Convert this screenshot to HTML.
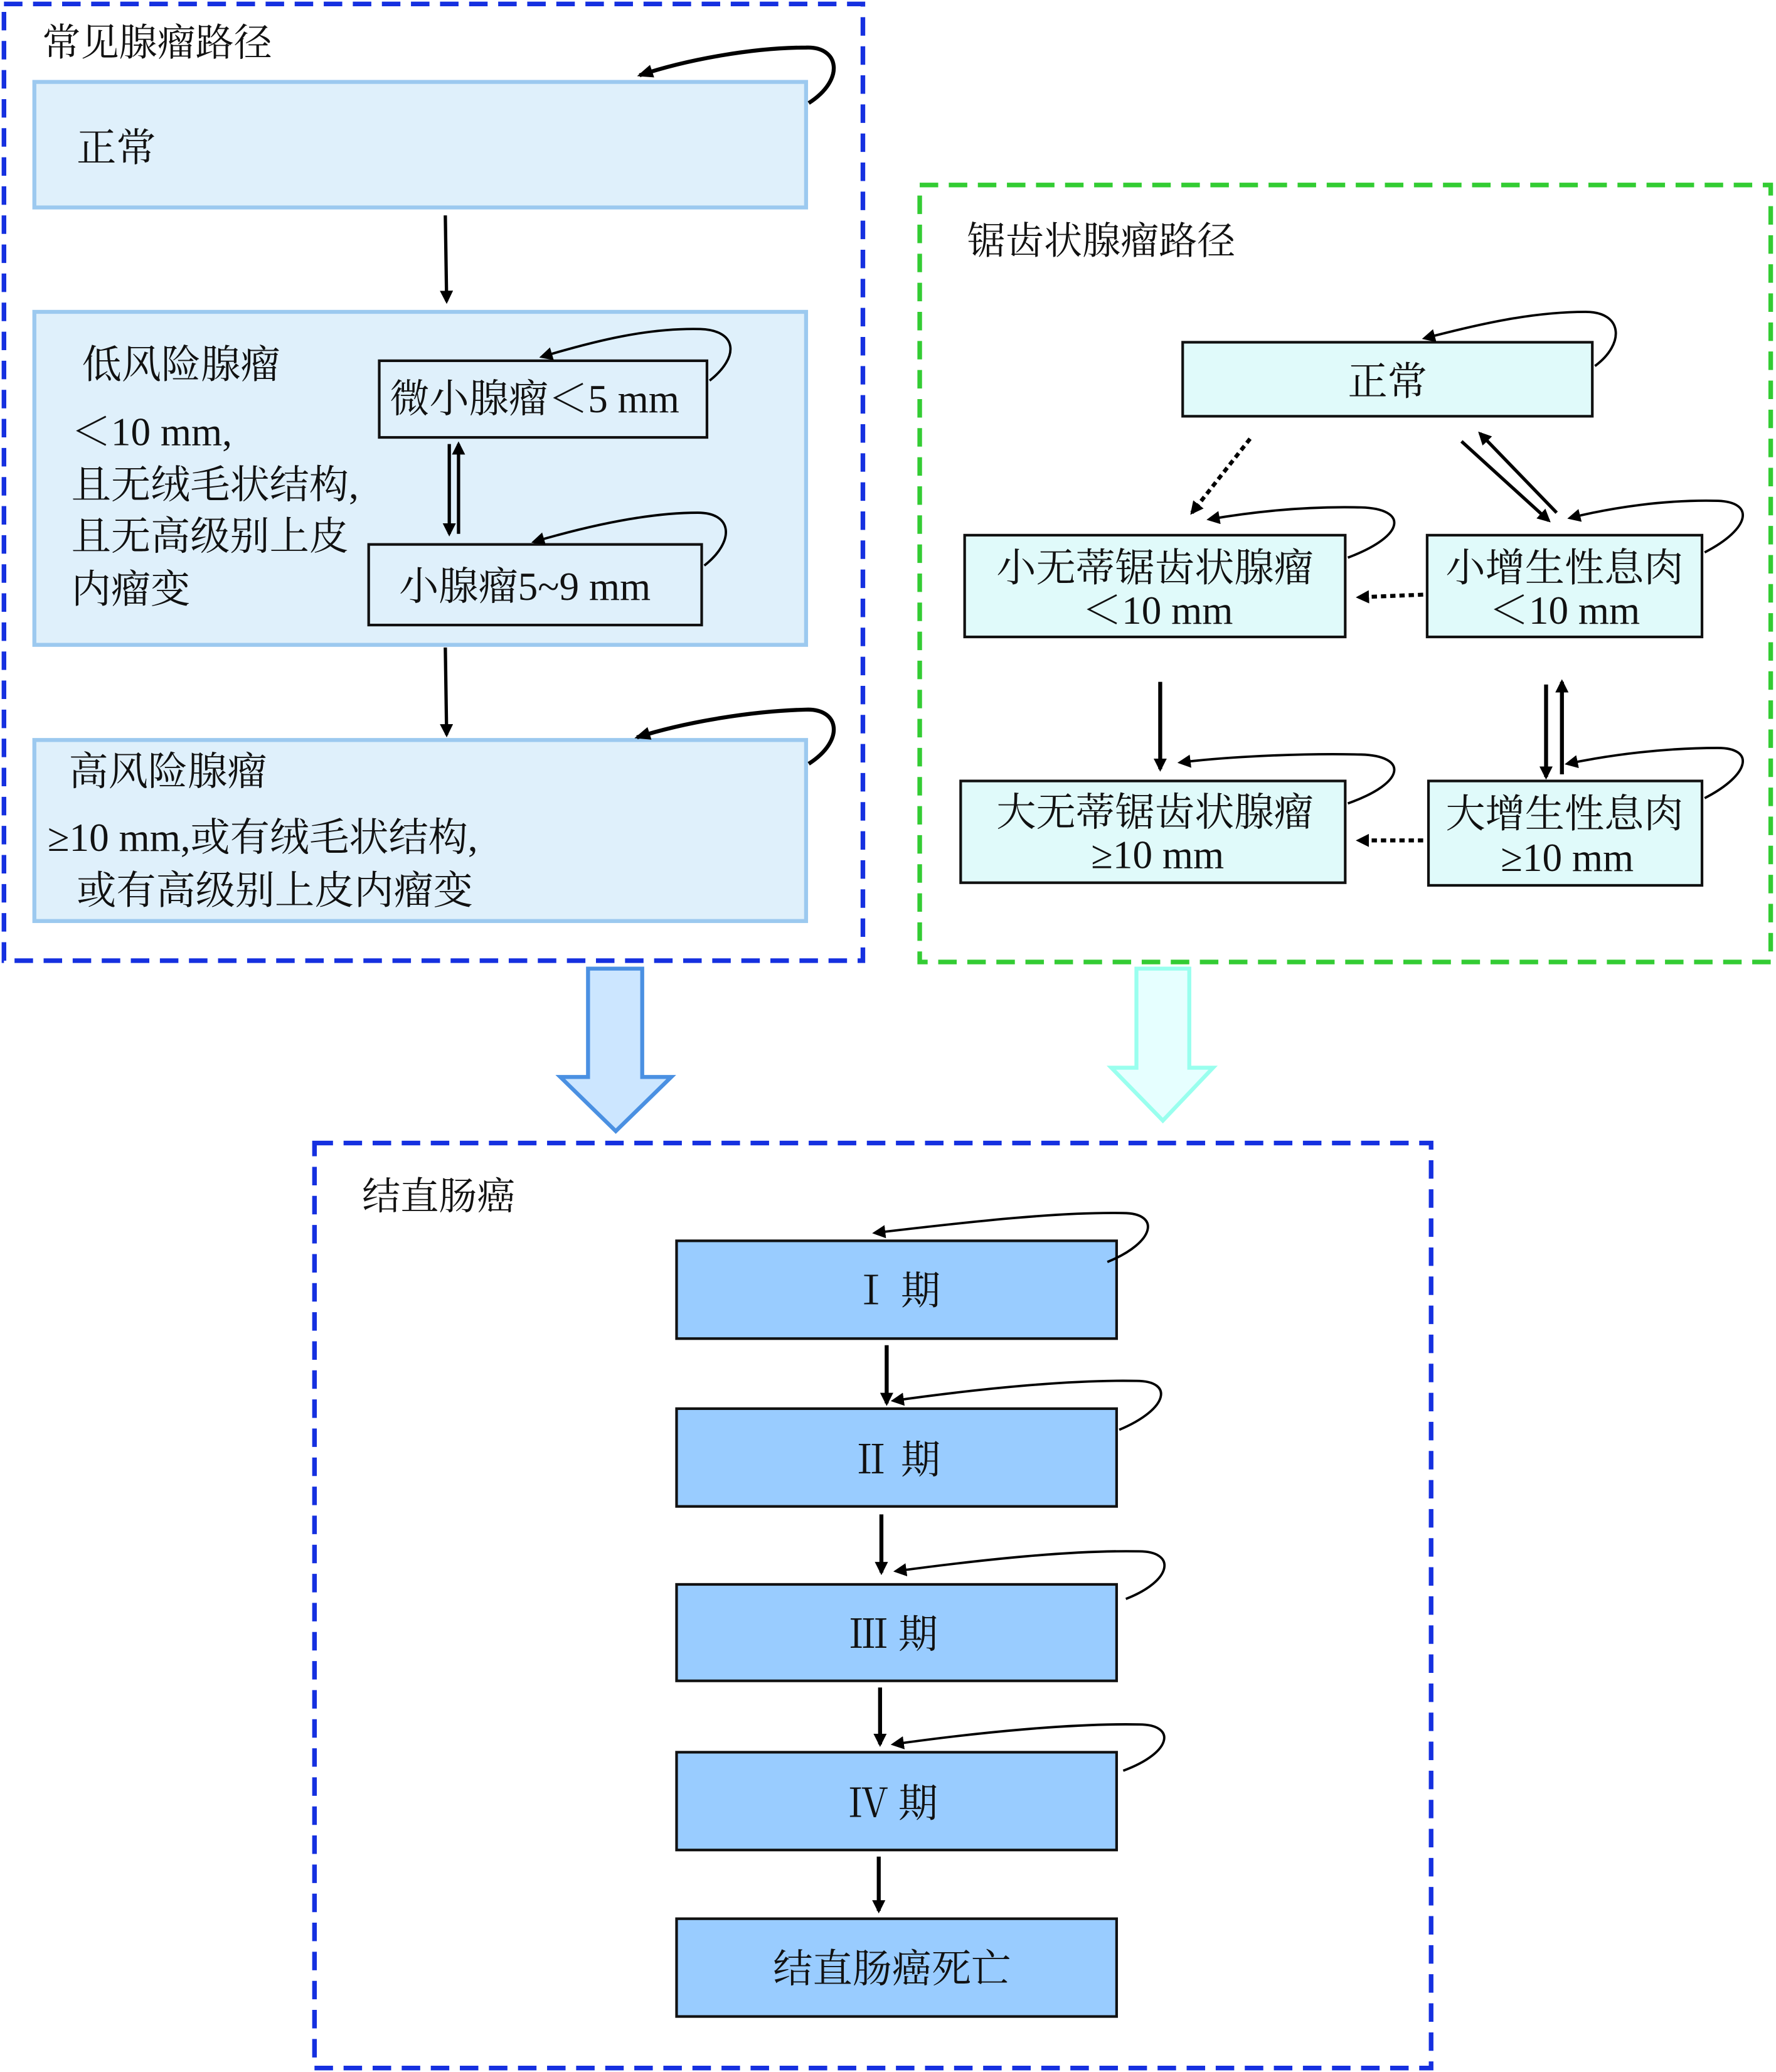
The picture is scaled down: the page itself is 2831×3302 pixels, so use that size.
<!DOCTYPE html>
<html><head><meta charset="utf-8"><style>
html,body{margin:0;padding:0;background:#fff;}
svg{display:block;}
text{font-family:"Liberation Serif","Noto Serif CJK SC",serif;fill:#111;}
</style></head><body>
<svg width="2831" height="3302" viewBox="0 0 1344 1568" preserveAspectRatio="none" xmlns="http://www.w3.org/2000/svg">
<defs>
<marker id="a" markerWidth="10" markerHeight="10" refX="8" refY="5" orient="auto" markerUnits="userSpaceOnUse"><path d="M0,0 L10,5 L0,10 z" fill="#000"/></marker>
<marker id="s" markerWidth="12" markerHeight="10" refX="10" refY="5" orient="auto" markerUnits="userSpaceOnUse"><path d="M0,0 L12,5 L0,10 z" fill="#000"/></marker>
</defs>

<!-- Left panel -->
<rect x="3" y="3" width="650" height="724" fill="none" stroke="#1530e0" stroke-width="3.5" stroke-dasharray="14,8"/>
<text x="32" y="42" font-size="29">常见腺瘤路径</text>
<rect x="26" y="62" width="584" height="95" fill="#dff0fb" stroke="#9cc9ef" stroke-width="3"/>
<text x="58" y="122" font-size="30">正常</text>
<path d="M612,78 C640,60 635,35 610,36 C570,36 520,45 484,57" fill="none" stroke="#000" stroke-width="3" marker-end="url(#s)"/>
<line x1="337" y1="163" x2="338" y2="228" stroke="#000" stroke-width="2.5" marker-end="url(#a)"/>

<rect x="26" y="236" width="584" height="252" fill="#dff0fb" stroke="#9cc9ef" stroke-width="3"/>
<text x="62" y="286" font-size="30">低风险腺瘤</text>
<text x="54" y="337" font-size="30">＜10 mm,</text>
<text x="54" y="377" font-size="30">且无绒毛状结构,</text>
<text x="54" y="416" font-size="30">且无高级别上皮</text>
<text x="54" y="456" font-size="30">内瘤变</text>
<rect x="287" y="273" width="248" height="58" fill="#dff0fb" stroke="#111" stroke-width="2"/>
<text x="295" y="312" font-size="30">微小腺瘤＜5 mm</text>
<path d="M537,288 C560,270 558,250 530,249 C490,248 450,258 410,270" fill="none" stroke="#000" stroke-width="1.8" marker-end="url(#a)"/>
<rect x="279" y="412" width="252" height="61" fill="#dff0fb" stroke="#111" stroke-width="2"/>
<text x="302" y="454" font-size="30">小腺瘤5~9 mm</text>
<path d="M533,428 C556,410 555,388 528,388 C490,388 445,398 404,410" fill="none" stroke="#000" stroke-width="1.8" marker-end="url(#a)"/>
<line x1="340" y1="336" x2="340" y2="404" stroke="#000" stroke-width="2.5" marker-end="url(#a)"/>
<line x1="347" y1="404" x2="347" y2="336" stroke="#000" stroke-width="2.5" marker-end="url(#a)"/>
<line x1="337" y1="490" x2="338" y2="556" stroke="#000" stroke-width="2.5" marker-end="url(#a)"/>

<rect x="26" y="560" width="584" height="137" fill="#dff0fb" stroke="#9cc9ef" stroke-width="3"/>
<text x="52" y="594" font-size="30">高风险腺瘤</text>
<text x="36" y="644" font-size="30">≥10 mm,或有绒毛状结构,</text>
<text x="58" y="684" font-size="30">或有高级别上皮内瘤变</text>
<path d="M612,578 C640,560 635,536 610,537 C570,538 520,546 482,558" fill="none" stroke="#000" stroke-width="3" marker-end="url(#s)"/>

<!-- Right panel -->
<rect x="696" y="140" width="644" height="588" fill="none" stroke="#33cc33" stroke-width="3.5" stroke-dasharray="14,8"/>
<text x="732" y="192" font-size="29">锯齿状腺瘤路径</text>
<rect x="895" y="259" width="310" height="56" fill="#e0fafa" stroke="#111" stroke-width="2"/>
<text x="1050" y="299" font-size="30" text-anchor="middle">正常</text>
<path d="M1207,277 C1230,260 1228,236 1200,236 C1160,236 1120,245 1078,256" fill="none" stroke="#000" stroke-width="1.8" marker-end="url(#a)"/>

<rect x="730" y="405" width="288" height="77" fill="#e0fafa" stroke="#111" stroke-width="2"/>
<text x="874" y="440" font-size="30" text-anchor="middle">小无蒂锯齿状腺瘤</text>
<text x="876" y="472" font-size="30" text-anchor="middle">＜10 mm</text>
<path d="M1020,422 C1065,405 1065,385 1030,384 C990,383 950,387 915,393" fill="none" stroke="#000" stroke-width="1.8" marker-end="url(#a)"/>

<rect x="1080" y="405" width="208" height="77" fill="#e0fafa" stroke="#111" stroke-width="2"/>
<text x="1184" y="440" font-size="30" text-anchor="middle">小增生性息肉</text>
<text x="1184" y="472" font-size="30" text-anchor="middle">＜10 mm</text>
<path d="M1290,418 C1325,400 1328,380 1300,379 C1260,378 1220,384 1188,392" fill="none" stroke="#000" stroke-width="1.8" marker-end="url(#a)"/>

<rect x="727" y="591" width="291" height="77" fill="#e0fafa" stroke="#111" stroke-width="2"/>
<text x="874" y="625" font-size="30" text-anchor="middle">大无蒂锯齿状腺瘤</text>
<text x="876" y="657" font-size="30" text-anchor="middle">≥10 mm</text>
<path d="M1020,608 C1065,592 1065,572 1030,571 C990,570 935,572 893,577" fill="none" stroke="#000" stroke-width="1.8" marker-end="url(#a)"/>

<rect x="1081" y="591" width="207" height="79" fill="#e0fafa" stroke="#111" stroke-width="2"/>
<text x="1184" y="626" font-size="30" text-anchor="middle">大增生性息肉</text>
<text x="1186" y="659" font-size="30" text-anchor="middle">≥10 mm</text>
<path d="M1290,604 C1325,586 1328,566 1300,566 C1260,566 1220,571 1186,578" fill="none" stroke="#000" stroke-width="1.8" marker-end="url(#a)"/>

<line x1="946" y1="332" x2="902" y2="388" stroke="#000" stroke-width="3" stroke-dasharray="4,3" marker-end="url(#a)"/>
<line x1="1106" y1="334" x2="1172" y2="394" stroke="#000" stroke-width="2.5" marker-end="url(#a)"/>
<line x1="1178" y1="388" x2="1120" y2="328" stroke="#000" stroke-width="2.5" marker-end="url(#a)"/>
<line x1="1077" y1="450" x2="1028" y2="452" stroke="#000" stroke-width="3" stroke-dasharray="4,3" marker-end="url(#a)"/>
<line x1="1077" y1="636" x2="1028" y2="636" stroke="#000" stroke-width="3" stroke-dasharray="4,3" marker-end="url(#a)"/>
<line x1="878" y1="516" x2="878" y2="582" stroke="#000" stroke-width="3" marker-end="url(#a)"/>
<line x1="1170" y1="518" x2="1170" y2="588" stroke="#000" stroke-width="3" marker-end="url(#a)"/>
<line x1="1182" y1="586" x2="1182" y2="516" stroke="#000" stroke-width="3" marker-end="url(#a)"/>

<!-- Big arrows -->
<path d="M445,733 L486,733 L486,815 L508,815 L466,856 L424,815 L445,815 Z" fill="#cce6ff" stroke="#4a90e2" stroke-width="3"/>
<path d="M860,733 L900,733 L900,808 L918,808 L880,848 L841,808 L860,808 Z" fill="#e6ffff" stroke="#99ffee" stroke-width="3"/>

<!-- Bottom panel -->
<rect x="238" y="865" width="845" height="700" fill="none" stroke="#1530e0" stroke-width="3.5" stroke-dasharray="14,8"/>
<text x="274" y="915" font-size="29">结直肠癌</text>

<rect x="512" y="939" width="333" height="74" fill="#99ccff" stroke="#111" stroke-width="2"/>
<text x="678" y="987" font-size="30" text-anchor="middle">Ⅰ 期</text>
<path d="M838,955 C875,940 878,918 850,918 C800,917 730,925 662,933" fill="none" stroke="#000" stroke-width="1.8" marker-end="url(#a)"/>
<rect x="512" y="1066" width="333" height="74" fill="#99ccff" stroke="#111" stroke-width="2"/>
<text x="678" y="1115" font-size="30" text-anchor="middle">Ⅱ 期</text>
<path d="M847,1082 C885,1066 888,1045 860,1045 C810,1044 740,1051 676,1060" fill="none" stroke="#000" stroke-width="1.8" marker-end="url(#a)"/>
<rect x="512" y="1199" width="333" height="73" fill="#99ccff" stroke="#111" stroke-width="2"/>
<text x="676" y="1247" font-size="30" text-anchor="middle">Ⅲ 期</text>
<path d="M852,1210 C888,1196 890,1174 862,1174 C812,1173 745,1180 678,1189" fill="none" stroke="#000" stroke-width="1.8" marker-end="url(#a)"/>
<rect x="512" y="1326" width="333" height="74" fill="#99ccff" stroke="#111" stroke-width="2"/>
<text x="676" y="1375" font-size="30" text-anchor="middle">Ⅳ 期</text>
<path d="M850,1340 C888,1326 890,1305 862,1305 C812,1304 740,1311 676,1320" fill="none" stroke="#000" stroke-width="1.8" marker-end="url(#a)"/>
<rect x="512" y="1452" width="333" height="74" fill="#99ccff" stroke="#111" stroke-width="2"/>
<text x="675" y="1500" font-size="30" text-anchor="middle">结直肠癌死亡</text>

<line x1="671" y1="1018" x2="671" y2="1062" stroke="#000" stroke-width="3" marker-end="url(#a)"/>
<line x1="667" y1="1146" x2="667" y2="1190" stroke="#000" stroke-width="3" marker-end="url(#a)"/>
<line x1="666" y1="1277" x2="666" y2="1320" stroke="#000" stroke-width="3" marker-end="url(#a)"/>
<line x1="665" y1="1405" x2="665" y2="1446" stroke="#000" stroke-width="3" marker-end="url(#a)"/>
</svg>
</body></html>
